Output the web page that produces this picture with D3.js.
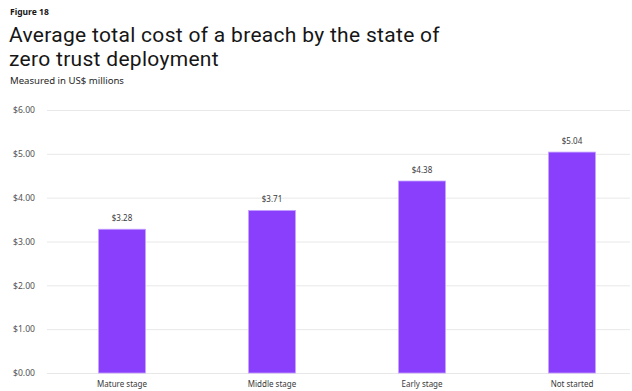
<!DOCTYPE html>
<html><head><meta charset="utf-8">
<script src="https://cdn.jsdelivr.net/npm/d3@7"></script>
<style>body{margin:0;background:#fff}svg{display:block}</style>
</head><body>
<script>
const categories = ["Mature stage","Middle stage","Early stage","Not started"];
const values = [3.28, 3.71, 4.38, 5.04];
const yTicks = [0,1,2,3,4,5,6];

const W = 632, H = 391;
const svg = d3.select("body").append("svg").attr("width", W).attr("height", H);
const font = "'Noto Sans', 'Open Sans', sans-serif";
const titleFont = "Roboto, 'Noto Sans', sans-serif";

svg.append("text").attr("x",10).attr("y",15).attr("font-family",font).attr("font-size",8.5).attr("font-weight",700).attr("fill","#161616").text("Figure 18");
svg.append("text").attr("x",9).attr("y",42).attr("font-family",titleFont).attr("font-size",21).attr("letter-spacing",0.3).attr("fill","#161616").text("Average total cost of a breach by the state of");
svg.append("text").attr("x",9).attr("y",66).attr("font-family",titleFont).attr("font-size",21).attr("letter-spacing",0.3).attr("fill","#161616").text("zero trust deployment");
svg.append("text").attr("x",10).attr("y",84).attr("font-family",font).attr("font-size",9.6).attr("fill","#262626").text("Measured in US$ millions");

const y = d3.scaleLinear().domain([0,6]).range([373,110]);
const x = d3.scaleBand().domain(categories).range([47,647]).paddingInner(0.687).paddingOuter(0.3435);

const yAxis = svg.append("g").attr("transform","translate(47,0)")
  .call(d3.axisLeft(y).tickValues(yTicks).tickSize(-583).tickFormat(d => "$" + d3.format(".2f")(d)));
yAxis.select(".domain").remove();
yAxis.selectAll(".tick line").attr("stroke","#e8e8e8").attr("stroke-width",1);
yAxis.selectAll(".tick text").attr("x",-12).attr("font-family",font).attr("font-size",8.6).attr("fill","#525252");

svg.append("g").selectAll("rect").data(values).join("rect")
  .attr("x",(d,i)=>x(categories[i])).attr("width",x.bandwidth())
  .attr("y",d=>y(d)).attr("height",d=>y(0)-y(d))
  .attr("fill","#8a3ffc").attr("stroke","#c5a3ff").attr("stroke-width",0.8);

svg.append("g").selectAll("text").data(values).join("text")
  .attr("x",(d,i)=>x(categories[i])+x.bandwidth()/2).attr("y",d=>y(d)-8)
  .attr("text-anchor","middle").attr("font-family",font).attr("font-size",8).attr("fill","#393939")
  .text(d=>"$"+d3.format(".2f")(d));

const xAxis = svg.append("g").attr("transform","translate(0,373)")
  .call(d3.axisBottom(x).tickSize(0).tickPadding(8));
xAxis.select(".domain").remove();
xAxis.selectAll(".tick text").attr("font-family",font).attr("font-size",8).attr("fill","#393939");
</script>
</body></html>
